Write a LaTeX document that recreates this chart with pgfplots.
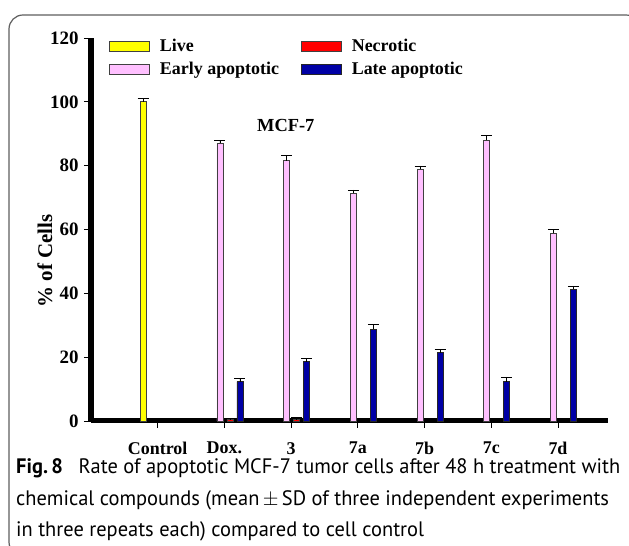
\documentclass[border=0pt]{standalone}
\usepackage{pgfplots}
\pgfplotsset{compat=1.18}
\usepackage{fontspec}
\usepackage{graphicx}
\setmainfont{Liberation Serif}
\newfontfamily\capfont{PT Sans}
\definecolor{cyel}{RGB}{255,255,0}
\definecolor{cpink}{RGB}{255,192,255}
\definecolor{cred}{RGB}{255,0,0}
\definecolor{cblue}{RGB}{0,0,165}
\definecolor{cframe}{RGB}{95,95,95}
\begin{document}
\begin{tikzpicture}
\useasboundingbox (0,0) rectangle (629bp,546bp);
\fill[white] (0,0) rectangle (629bp,546bp);
\clip (0,0) rectangle (629bp,546bp);
\draw[cframe, line width=1.2bp, rounded corners=14bp] (9bp,531bp) rectangle (640bp,-10bp);
\begin{axis}[
  at={(91bp,125bp)}, anchor=south west,
  scale only axis, width=517bp, height=383bp,
  xmin=-1, xmax=6.75, ymin=0, ymax=120,
  axis x line*=bottom, axis y line*=left,
  axis line style={line width=5bp, -},
  xtick={0,...,6}, xticklabels={Control,Dox.,3,7a,7b,7c,7d},
  ytick={0,20,...,120},
  tick align=outside, major tick length=7bp,
  tick style={black, line width=0.8bp},
  /pgf/number format/assume math mode=true,
  x tick label style={font=\fontsize{18}{18}\selectfont\bfseries, inner sep=0pt, yshift=-14bp},
  y tick label style={font=\fontsize{19}{19}\selectfont\bfseries, xshift=-2bp},
  ylabel={\% of Cells},
  ylabel style={at={(rel axis cs:-0.089,0.418)}, anchor=center, font=\fontsize{21}{21}\selectfont\bfseries},
  ybar, bar width=6bp,
  legend columns=2,
  legend cell align=left,
  legend image code/.code={\draw[#1, line width=0.8bp] (0bp,-5bp) rectangle (40bp,5bp);},
  legend style={at={(rel axis cs:0.0348,1.003)}, anchor=north west, draw=none, fill=none,
    inner sep=0pt, row sep=5bp, font=\fontsize{18}{18}\selectfont\bfseries,
    /tikz/every odd column/.append style={column sep=8bp},
    /tikz/every even column/.append style={column sep=20bp}},
  clip=false,
]
\addplot[fill=cyel, draw=black!75, line width=0.8bp, bar shift=-14.5bp,
  error bars/.cd, y dir=plus, y explicit,
  error bar style={black, line width=0.8bp},
  error mark options={rotate=90, mark size=5.5bp, line width=0.8bp, black}]
  coordinates {(0,100) +- (0,1.0)};
\addplot[fill=cred, draw=black!75, line width=0.8bp, bar shift=5.5bp,
  error bars/.cd, y dir=plus, y explicit,
  error bar style={black, line width=0.8bp},
  error mark options={rotate=90, mark size=5.5bp, line width=0.8bp, black}]
  coordinates {(1,0.4) +- (0,0.4) (2,0.4) +- (0,0.6)};
\addplot[fill=cpink, draw=black!75, line width=0.8bp, bar shift=-4.5bp,
  error bars/.cd, y dir=plus, y explicit,
  error bar style={black, line width=0.8bp},
  error mark options={rotate=90, mark size=5.5bp, line width=0.8bp, black}]
  coordinates {(1,87.0) +- (0,1.0) (2,81.5) +- (0,1.6) (3,71.4) +- (0,1.0)
               (4,78.9) +- (0,1.0) (5,87.9) +- (0,1.7) (6,58.8) +- (0,1.3)};
\addplot[fill=cblue, draw=black!85, line width=0.8bp, bar shift=15.5bp,
  error bars/.cd, y dir=plus, y explicit,
  error bar style={black, line width=0.8bp},
  error mark options={rotate=90, mark size=5.5bp, line width=0.8bp, black}]
  coordinates {(1,12.3) +- (0,1.1) (2,18.6) +- (0,1.0) (3,28.8) +- (0,1.5)
               (4,21.4) +- (0,0.9) (5,12.3) +- (0,1.5) (6,41.3) +- (0,1.0)};
\legend{Live,Necrotic,Early apoptotic,Late apoptotic}
\node[font=\fontsize{18.5}{18.5}\selectfont\bfseries] at (axis cs:1.92,92.7) {MCF-7};
\end{axis}
\node[anchor=base west, inner sep=0pt] at (16bp,72bp) {\resizebox{604bp}{\height}{\capfont\fontsize{21}{31.5}\selectfont
  \begin{tabular}[t]{@{}l@{}}
  \textbf{Fig.\,8}\hspace{0.5em} Rate of apoptotic MCF-7 tumor cells after 48 h treatment with\\
  chemical compounds (mean\,$\pm$\,SD of three independent experiments\\
  in three repeats each) compared to cell control
  \end{tabular}}};
\end{tikzpicture}
\end{document}
